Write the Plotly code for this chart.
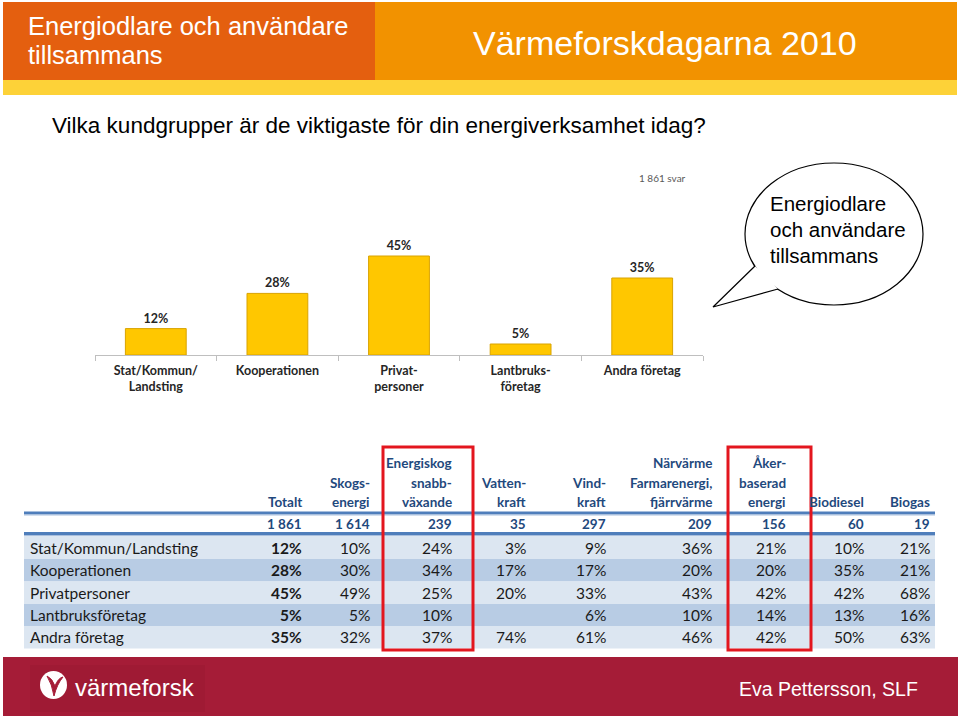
import plotly.graph_objects as go

W, H = 960, 716

# ---------------- data ----------------
bar_categories = ["Stat/Kommun/<br>Landsting", "Kooperationen", "Privat-<br>personer",
                  "Lantbruks-<br>företag", "Andra företag"]
bar_values = [12, 28, 45, 5, 35]
respondents_label = "1 861 svar"

table_headers = [["Totalt"], ["Skogs-", "energi"], ["Energiskog", "snabb-", "växande"],
                 ["Vatten-", "kraft"], ["Vind-", "kraft"],
                 ["Närvärme", "Farmarenergi,", "fjärrvärme"],
                 ["Åker-", "baserad", "energi"], ["Biodiesel"], ["Biogas"]]
table_totals = ["1 861", "1 614", "239", "35", "297", "209", "156", "60", "19"]
row_labels = ["Stat/Kommun/Landsting", "Kooperationen", "Privatpersoner",
              "Lantbruksföretag", "Andra företag"]
col_totalt = [12, 28, 45, 5, 35]
col_skogsenergi = [10, 30, 49, 5, 32]
col_energiskog = [24, 34, 25, 10, 37]
col_vattenkraft = [3, 17, 20, None, 74]
col_vindkraft = [9, 17, 33, 6, 61]
col_narvarme = [36, 20, 43, 10, 46]
col_akerbaserad = [21, 20, 42, 14, 42]
col_biodiesel = [10, 35, 42, 13, 50]
col_biogas = [21, 21, 68, 16, 63]
table_values = [col_totalt, col_skogsenergi, col_energiskog, col_vattenkraft,
                col_vindkraft, col_narvarme, col_akerbaserad, col_biodiesel, col_biogas]
highlighted_cols = [2, 6]

header_left = ["Energiodlare och användare", "tillsammans"]
header_right = "Värmeforskdagarna 2010"
question = "Vilka kundgrupper är de viktigaste för din energiverksamhet idag?"
bubble_lines = ["Energiodlare", "och användare", "tillsammans"]
footer_logo = "värmeforsk"
footer_author = "Eva Pettersson, SLF"

# ---------------- layout positions (pixels) ----------------
col_right_px = [304, 372, 454, 528, 608, 714, 788, 866, 932]
col_box_px = {2: (383, 473), 6: (728, 811)}
header_line_y = [463, 482.5, 502]
totals_y = 524
row_top_px = [536, 559, 581.5, 604, 626, 648.5]
row_fill = ["#DCE6F1", "#B8CCE4", "#DCE6F1", "#B8CCE4", "#DCE6F1"]

TBL_FONT = "Lato"
BLUE = "#1F497D"

fig = go.Figure()

# bar chart
fig.add_trace(go.Bar(
    x=bar_categories, y=bar_values, width=0.5,
    marker=dict(color="#FFC700", line=dict(color="#D9A300", width=1)),
    text=[f"{v}%" for v in bar_values], textposition="outside",
    textfont=dict(family=TBL_FONT, size=12.5, color="#262626", weight="bold"),
    cliponaxis=False, hoverinfo="skip", xaxis="x", yaxis="y",
))

shapes = []
ann = []

def rect(x0, y0, x1, y1, fill, line_color=None, lw=0, layer="below"):
    shapes.append(dict(type="rect", xref="x2", yref="y2", x0=x0, y0=y0, x1=x1, y1=y1,
                       fillcolor=fill, line=dict(color=line_color or fill, width=lw),
                       layer=layer))

def text(x, y, s, size, color, family="Liberation Sans", xanchor="left", weight="normal"):
    ann.append(dict(xref="x2", yref="y2", x=x, y=y, text=s, showarrow=False,
                    xanchor=xanchor, yanchor="middle",
                    font=dict(family=family, size=size, color=color, weight=weight)))

# header band
rect(3, 2, 375, 80, "#E45F0F")
rect(375, 2, 957, 80, "#F29200")
rect(3, 80, 957, 95, "#FDD238")
text(26, 26, header_left[0], 25.5, "white")
text(26, 55, header_left[1], 25.5, "white")
text(665, 43, header_right, 34, "white", xanchor="center")

# question
text(50, 125, question, 22.5, "black")

# respondents
text(662, 178, respondents_label, 10, "#595959", family=TBL_FONT, xanchor="center")

# speech bubble
shapes.append(dict(type="circle", xref="x2", yref="y2", x0=745, x1=923, y0=163, y1=305,
                   fillcolor="white", line=dict(color="black", width=1.2), layer="above"))
shapes.append(dict(type="path", xref="x2", yref="y2", path="M 755 266 L 713 307 L 778 289 Z",
                   fillcolor="white", line=dict(color="white", width=0), layer="above"))
shapes.append(dict(type="path", xref="x2", yref="y2", path="M 755 266 L 713 307 L 778 289",
                   line=dict(color="black", width=1.2), layer="above"))
for i, s in enumerate(bubble_lines):
    text(768, 203 + i * 26, s, 20.5, "black")

# table backgrounds
for i, f in enumerate(row_fill):
    rect(24, row_top_px[i], 935, row_top_px[i + 1], f)
rect(24, 511.5, 935, 514.5, "#4F7EBB")
rect(24, 514.5, 935, 515.5, "#A9BFDD")
rect(24, 532, 935, 535, "#4F7EBB")
rect(24, 535, 935, 536, "#A9BFDD")

# table headers
for c, lines in enumerate(table_headers):
    ys = header_line_y[-len(lines):]
    for s, y in zip(lines, ys):
        text(col_right_px[c], y, s, 13.5, BLUE, family=TBL_FONT, xanchor="right", weight="bold")
    text(col_right_px[c], totals_y, table_totals[c], 13.5, BLUE, family=TBL_FONT,
         xanchor="right", weight="bold")

# table body
for r, lab in enumerate(row_labels):
    yc = (row_top_px[r] + row_top_px[r + 1]) / 2
    text(28, yc, lab, 15.5, "#1A1A1A", family=TBL_FONT)
    for c, col in enumerate(table_values):
        v = col[r]
        if v is None:
            continue
        text(col_right_px[c], yc, f"{v}%", 15.5, "#1A1A1A", family=TBL_FONT,
             xanchor="right", weight="bold" if c == 0 else "normal")

# red highlight boxes
for c in highlighted_cols:
    x0, x1 = col_box_px[c]
    shapes.append(dict(type="rect", xref="x2", yref="y2", x0=x0, x1=x1, y0=447, y1=650,
                       line=dict(color="#E3161E", width=3), fillcolor="rgba(0,0,0,0)",
                       layer="above"))

# footer
rect(3, 657, 958, 716, "#A51C37")
rect(30, 665, 205, 712, "#9F1A34")
shapes.append(dict(type="circle", xref="x2", yref="y2", x0=40, x1=67, y0=671, y1=699,
                   fillcolor="white", line=dict(color="white", width=0), layer="above"))
shapes.append(dict(type="path", xref="x2", yref="y2",
                   path="M 47 676 Q 52 684 54 696 Q 57 684 63 677 Q 58 678 55 686 Q 52 678 47 676 Z",
                   fillcolor="#A51C37", line=dict(color="#A51C37", width=1), layer="above"))
text(73, 687, footer_logo, 24, "white")
text(920, 689, footer_author, 19.5, "white", xanchor="right")

# axes geometry
bar_left, bar_right, bar_base, bar_top = 95, 703, 355, 155
px_per_pct = 2.2

fig.update_layout(
    width=W, height=H, margin=dict(l=0, r=0, t=0, b=0),
    paper_bgcolor="white", plot_bgcolor="rgba(0,0,0,0)", showlegend=False,
    xaxis=dict(domain=[bar_left / W, bar_right / W], anchor="y", showgrid=False,
               showline=True, linecolor="#BFBFBF", linewidth=1,
               ticks="outside", tickson="boundaries", ticklen=5, tickcolor="#BFBFBF",
               ticklabelstandoff=4,
               tickfont=dict(family=TBL_FONT, size=12.5, color="#262626", weight="bold"),
               fixedrange=True),
    yaxis=dict(domain=[1 - bar_base / H, 1 - bar_top / H], anchor="x",
               range=[0, (bar_base - bar_top) / px_per_pct], visible=False,
               showgrid=False, zeroline=False, fixedrange=True),
    xaxis2=dict(domain=[0, 1], range=[0, W], anchor="y2", visible=False, fixedrange=True),
    yaxis2=dict(domain=[0, 1], range=[H, 0], anchor="x2", visible=False, fixedrange=True),
    shapes=shapes, annotations=ann, bargap=0.5,
)

fig.write_html("out.html", config={"displayModeBar": False},
               post_script="document.body.style.margin='0';")
